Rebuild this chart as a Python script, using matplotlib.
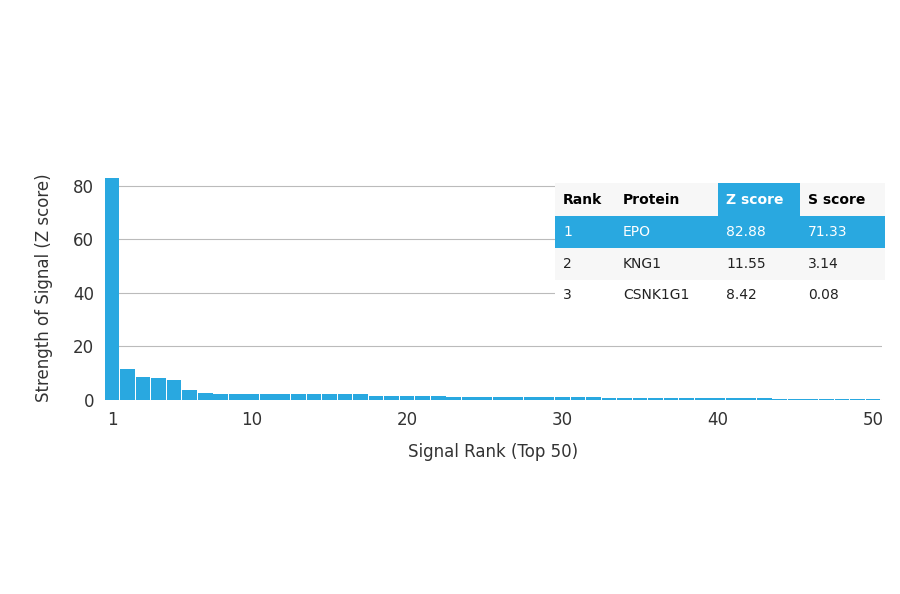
import numpy as np
import matplotlib
matplotlib.use('Agg')
import matplotlib.pyplot as plt
from matplotlib.patches import Rectangle

ranks = np.arange(1, 51)
z_scores = [82.88, 11.55, 8.42, 8.2, 7.4, 3.8, 2.8, 2.4, 2.3, 2.3,
            2.3, 2.2, 2.2, 2.2, 2.1, 2.1, 2.1, 1.6, 1.5, 1.4,
            1.4, 1.4, 1.3, 1.3, 1.3, 1.3, 1.2, 1.2, 1.2, 1.2,
            1.1, 1.1, 0.7, 0.7, 0.7, 0.7, 0.6, 0.6, 0.6, 0.6,
            0.6, 0.6, 0.6, 0.5, 0.5, 0.5, 0.5, 0.5, 0.5, 0.5]
yticks = [0, 20, 40, 60, 80]
xticks = [1, 10, 20, 30, 40, 50]

tbl_header = ['Rank', 'Protein', 'Z score', 'S score']
tbl_rows = [['1', 'EPO', '82.88', '71.33'],
            ['2', 'KNG1', '11.55', '3.14'],
            ['3', 'CSNK1G1', '8.42', '0.08']]

blue = '#29a8e0'
W, H = 900, 594
fig = plt.figure(figsize=(9, 5.94), dpi=100)
ax = fig.add_axes([105 / W, 1 - 400 / H, 777 / W, 225 / H])
ax.bar(ranks, z_scores, width=0.95, color=blue, zorder=2)
ax.set_xlim(0.55, 50.58)
ax.set_ylim(0, 84)
ax.set_yticks(yticks)
ax.set_xticks(xticks)
ax.grid(axis='y', color='#bbbbbb', lw=0.8, zorder=0)
for s in ax.spines.values():
    s.set_visible(False)
ax.tick_params(length=0, labelsize=12, colors='#333333', pad=8)
ax.set_xlabel('Signal Rank (Top 50)', fontsize=12, color='#333333', labelpad=10)
ax.set_ylabel('Strength of Signal (Z score)', fontsize=12, color='#333333', labelpad=14)

# table drawn in figure pixel coordinates
col_x = [555, 615, 718, 800, 885]
row_y = [183, 216, 248, 280, 311]

def px(x, y):
    return x / W, 1 - y / H

for r in range(4):
    for c in range(4):
        x0, x1 = col_x[c], col_x[c + 1]
        y0, y1 = row_y[r], row_y[r + 1]
        if r == 0:
            fc = blue if c == 2 else '#f7f7f7'
            txt, color, weight = tbl_header[c], ('white' if c == 2 else 'black'), 'bold'
        else:
            fc = blue if r == 1 else ('#f7f7f7' if r == 2 else 'white')
            txt, color, weight = tbl_rows[r - 1][c], ('white' if r == 1 else '#222222'), 'normal'
        fx, fy = px(x0, y1)
        fig.add_artist(Rectangle((fx, fy), (x1 - x0) / W, (y1 - y0) / H,
                                 transform=fig.transFigure, facecolor=fc,
                                 edgecolor='none', zorder=3))
        tx, ty = px(x0 + 8, (y0 + y1) / 2)
        fig.text(tx, ty, txt, fontsize=10, color=color, fontweight=weight,
                 va='center', ha='left', zorder=4)

fig.savefig('out.png', dpi=100)
